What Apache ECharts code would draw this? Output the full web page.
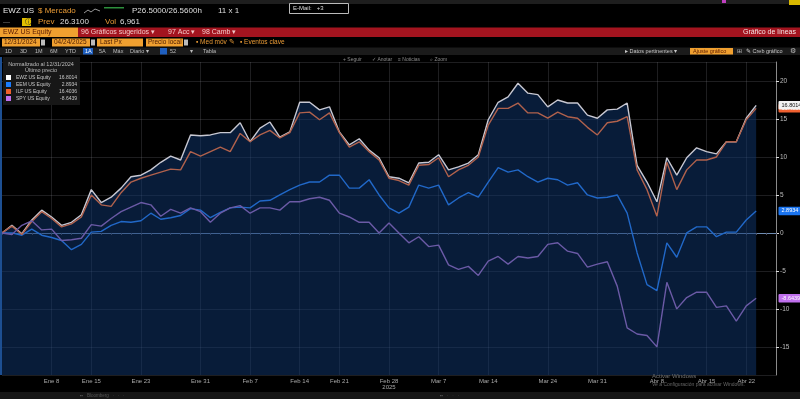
<!DOCTYPE html>
<html>
<head>
<meta charset="utf-8">
<script src="https://cdn.jsdelivr.net/npm/echarts@6/dist/echarts.min.js"></script>
<style>
html,body{margin:0;padding:0;background:#000;}
#chart{width:800px;height:399px;}
</style>
</head>
<body>
<div id="chart"></div>
<script>
// trading days, 12/31/2024 .. 04/25/2025 (last two have no data yet)
var categories = ["Dic 31","Ene 2","Ene 3","Ene 6","Ene 7","Ene 8","Ene 10","Ene 13","Ene 14","Ene 15","Ene 16","Ene 17","Ene 21","Ene 22","Ene 23","Ene 24","Ene 27","Ene 28","Ene 29","Ene 30","Ene 31",
  "Feb 3","Feb 4","Feb 5","Feb 6","Feb 7","Feb 10","Feb 11","Feb 12","Feb 13","Feb 14","Feb 18","Feb 19","Feb 20","Feb 21","Feb 24","Feb 25","Feb 26","Feb 27","Feb 28",
  "Mar 3","Mar 4","Mar 5","Mar 6","Mar 7","Mar 10","Mar 11","Mar 12","Mar 13","Mar 14","Mar 17","Mar 18","Mar 19","Mar 20","Mar 21","Mar 24","Mar 25","Mar 26","Mar 27","Mar 28","Mar 31",
  "Abr 1","Abr 2","Abr 3","Abr 4","Abr 7","Abr 8","Abr 9","Abr 10","Abr 11","Abr 14","Abr 15","Abr 16","Abr 17","Abr 21","Abr 22","Abr 23","Abr 24","Abr 25"];
var tickLabels = ["Ene 8","Ene 15","Ene 23","Ene 31","Feb 7","Feb 14","Feb 21","Feb 28","Mar 7","Mar 14","Mar 24","Mar 31","Abr 8","Abr 15","Abr 22"];

// normalizado al 12/31/2024 (% cambio)
var ewz = [0,1.0,-0.1,1.7,3.0,2.1,1.0,1.4,2.4,5.7, 4.0,4.7,5.9,7.4,7.6,8.3,9.3,10.1,9.6,12.9,
  12.8,12.9,13.2,13.2,14.5,12.0,13.8,14.6,12.6,13.3, 17.2,17.2,16.2,16.6,13.3,11.6,12.4,10.9,9.9,7.4,
  7.2,6.6,9.2,9.3,10.3,8.3,8.7,9.2,10.3,14.9, 17.2,17.9,19.7,18.4,18.2,16.6,17.5,17.1,17.1,15.5,
  15.1,16.2,16.3,17.1,8.9,6.7,4.1,9.9,7.6,9.9, 11.2,10.7,10.4,12.0,12.0,15.1,16.8];
var eem = [0,0,-0.3,0.5,-0.3,-0.6,-1.0,-2.2,-1.5,0.1, 0.2,1.0,1.5,1.4,1.6,2.6,1.8,2.0,2.3,3.2,
  3.0,2.0,2.7,3.3,3.4,3.3,4.2,4.3,5.0,5.7, 6.3,6.7,6.7,7.6,7.6,5.9,5.9,7.0,5.0,3.3,
  2.6,3.4,6.3,5.9,6.3,3.7,4.6,5.3,4.7,6.7, 8.6,8.0,8.3,7.4,6.7,7.2,7.0,6.3,6.6,5.0,
  4.6,4.7,5.0,2.6,-2.6,-6.8,-7.6,-1.3,-3.2,0, 0.8,0.8,-0.5,0.1,0.1,1.7,2.9];
var ilf = [0,0.9,-0.2,1.5,2.8,1.9,0.8,1.2,2.1,5.0, 3.7,3.5,5.3,6.7,7.2,7.6,8.0,8.4,8.3,10.7,
  10.1,10.7,11.3,10.7,13.1,12.0,12.9,13.5,12.5,13.2, 15.8,15.9,14.9,15.8,13.2,11.3,12.0,10.7,9.6,7.2,
  6.9,6.3,8.9,9.0,9.9,7.4,8.3,8.9,10.0,14.2, 16.4,16.4,17.1,15.8,15.8,15.1,15.9,15.3,15.1,13.9,
  12.9,14.5,14.7,15.3,8.3,5.7,2.2,9.3,5.7,8.3, 9.6,9.6,10.0,12.0,12.0,14.9,16.4];
var spy = [0,-0.2,1.0,1.6,0.4,0.5,-1.0,-0.9,-0.7,1.1, 0.9,1.9,2.8,3.4,4.0,3.7,2.2,3.1,2.6,3.3,
  2.8,1.4,2.6,3.3,3.6,2.6,3.3,3.3,3.0,4.1, 4.1,4.5,4.7,4.3,2.6,2.1,1.4,1.4,0,1.3,
  0,-1.3,-0.5,-1.8,-1.6,-4.2,-4.8,-4.4,-5.6,-3.7, -3.1,-4.1,-3.1,-3.3,-3.1,-1.5,-1.3,-2.4,-2.7,-4.5,
  -4.1,-3.8,-7.0,-12.5,-13.3,-13.5,-15.0,-6.5,-10.0,-8.5, -7.8,-7.8,-9.8,-9.6,-11.6,-9.6,-8.6];

var names = ["EWZ US Equity","EEM US Equity","ILF US Equity","SPY US Equity"];
var lastPx = ["16.8014","2.8934","16.4036","-8.6439"];

var FONT = "Liberation Sans, Arial, sans-serif";
var myChart = echarts.init(document.getElementById("chart"), null, {renderer: "canvas"});

function txt(x, y, s, color, size, extra) {
  var o = {type: "text", x: x, y: y, z: 100, silent: true,
    style: {text: s, fill: color, font: size + "px " + FONT, verticalAlign: "middle"}};
  if (extra) Object.assign(o.style, extra);
  return o;
}
function box(x, y, w, h, fill, z) {
  return {type: "rect", z: z || 90, silent: true, shape: {x: x, y: y, width: w, height: h}, style: {fill: fill}};
}

var orange = "#e89a35";
var graphics = [
  box(0, 0, 800, 4, "#1e1e1e"),
  txt(3, 11, "EWZ US", "#e6e6e6", 8),
  txt(38, 11, "$ Mercado", orange, 8),
  {type: "polyline", z: 100, silent: true, shape: {points: [[84, 13], [88, 10], [91, 12], [95, 9], [100, 11]]}, style: {stroke: "#999", lineWidth: 1}},
  box(104, 7, 20, 1.5, "#2d8f3c"),
  txt(132, 11, "P26.5000/26.5600h", "#dedede", 8),
  txt(218, 11, "11 x 1", "#dedede", 8),
  {type: "rect", z: 95, silent: true, shape: {x: 289.5, y: 3.5, width: 59, height: 10}, style: {fill: "#000", stroke: "#bbb", lineWidth: 1}},
  txt(293, 8.5, "E-Mail:   +3", "#ddd", 6),
  box(722, 0, 4, 3, "#c040c0"),
  box(789, 0, 11, 5, "#d8b800"),

  txt(3, 22, "\u2014", "#777", 7),
  box(22, 18, 9, 8, "#e3c000"),
  txt(24.5, 22, "\u24d8", "#222", 7),
  txt(38, 22, "Prev", orange, 8),
  txt(60, 22, "26.3100", "#dedede", 8),
  txt(105, 22, "Vol", orange, 8),
  txt(120, 22, "6,961", "#dedede", 8),

  box(0, 27.5, 78, 9.5, "#f0a030"),
  txt(3, 32.5, "EWZ US Equity", "#5a1a00", 7),
  box(78, 27.5, 722, 9.5, "#a3141f"),
  txt(81, 32.5, "96 Gr\u00e1ficos sugeridos \u25be", "#f3c9c9", 7),
  txt(168, 32.5, "97 Acc \u25be", "#f3c9c9", 7),
  txt(202, 32.5, "98 Camb \u25be", "#f3c9c9", 7),
  txt(796, 32.5, "Gr\u00e1fico de l\u00edneas", "#f5e6e6", 7, {align: "right"}),

  box(2, 38.5, 38, 8, "#f0a030"), txt(4, 42.5, "12/31/2024", "#4a1a00", 6.5), box(41, 39.5, 4, 6, "#bbb"),
  box(52, 38.5, 38, 8, "#f0a030"), txt(54, 42.5, "04/24/2025", "#4a1a00", 6.5), box(91, 39.5, 4, 6, "#bbb"),
  box(97, 38.5, 46, 8, "#f0a030"), txt(100, 42.5, "Last Px", "#4a1a00", 6.5),
  box(146, 38.5, 37, 8, "#f0a030"), txt(148, 42.5, "Precio local", "#4a1a00", 6.5), box(184, 39.5, 4, 6, "#bbb"),
  txt(196, 42.5, "\u25aa Med m\u00f3v \u270e", orange, 6.5),
  txt(240, 42.5, "\u25aa Eventos clave", orange, 6.5),

  box(0, 47.5, 800, 7.5, "#1b1b1b"),
  txt(5, 51.5, "1D", "#bdbdbd", 5.5), txt(20, 51.5, "3D", "#bdbdbd", 5.5), txt(35, 51.5, "1M", "#bdbdbd", 5.5),
  txt(50, 51.5, "6M", "#bdbdbd", 5.5), txt(65, 51.5, "YTD", "#bdbdbd", 5.5),
  box(83, 48, 10, 6.5, "#1f5fbf", 95), txt(85, 51.5, "1A", "#fff", 5.5),
  txt(99, 51.5, "5A", "#bdbdbd", 5.5), txt(113, 51.5, "M\u00e1x", "#bdbdbd", 5.5),
  txt(130, 51.5, "Diario \u25be", "#bdbdbd", 5.5),
  box(160, 48, 7, 6.5, "#1f5fbf", 95), txt(170, 51.5, "52", "#bdbdbd", 5.5),
  txt(190, 51.5, "\u25be", "#bdbdbd", 5.5), txt(203, 51.5, "Tabla", "#bdbdbd", 5.5),
  txt(625, 51.5, "\u25b8 Datos pertinentes \u25be", "#c8c8c8", 5.5),
  box(690, 48, 43, 6.5, "#f0a030", 95), txt(693, 51.5, "Ajuste gr\u00e1fico", "#5a1a00", 5.5),
  txt(737, 51.5, "\u229e", "#bbb", 6), txt(746, 51.5, "\u270e Creb gr\u00e1fico", "#c8c8c8", 5.5),
  txt(790, 51.5, "\u2699", "#bbb", 6.5),

  txt(343, 59.5, "+ Seguir", "#8a8a8a", 5),
  txt(372, 59.5, "\u2713 Anotar", "#8a8a8a", 5),
  txt(398, 59.5, "\u2261 Noticias", "#8a8a8a", 5),
  txt(430, 59.5, "\u2315 Zoom", "#8a8a8a", 5),

  box(0, 57, 2, 318, "#1d4f92", 50),

  txt(41, 64.5, "Normalizado al 12/31/2024", "#bdbdbd", 5.5, {align: "center"}),
  txt(41, 70.5, "\u00daltimo precio", "#bdbdbd", 5.5, {align: "center"}),

  txt(652, 376, "Activar Windows", "#707070", 6),
  txt(652, 384.5, "Ve a Configuraci\u00f3n para activar Windows.", "#666", 5),
  box(0, 392, 800, 7, "#161616"),
  txt(80, 395.5, "\u25aa\u25aa   Bloomberg   \u00b7   \u00b7   \u00b7", "#555", 4.5),
  txt(440, 395.5, "\u25aa\u25aa   \u00b7   \u00b7   \u00b7", "#555", 4.5)
];

function tag(value, text, bg, fg, z) {
  return {
    symbol: "rect", symbolSize: 1, silent: true, z: z,
    itemStyle: {color: "rgba(0,0,0,0)"},
    label: {show: true, position: "right", distance: 2, formatter: text,
      backgroundColor: bg, color: fg, fontSize: 5.5, fontFamily: FONT, padding: [1.5, 2, 1, 3], borderRadius: 1},
    data: [{coord: ["Abr 25", value]}]
  };
}

var lineColors = ["#c8c8d2", "#2168c8", "#b0614c", "#6b5aa6"];
var iconColors = ["#ffffff", "#1a7cff", "#f0602a", "#c070ee"];
var seriesData = [ewz, eem, ilf, spy];
var tagStyles = [["#f2f2f2", "#111"], ["#1a74f0", "#fff"], ["#f06030", "#fff"], ["#c070ee", "#fff"]];

var series = [];
for (let i = 0; i < names.length; i++) {
  let obj = {
    name: names[i],
    type: "line",
    data: seriesData[i],
    symbol: "none",
    z: i === 0 ? 2 : 3,
    itemStyle: {color: iconColors[i]},
    lineStyle: {color: lineColors[i], width: 1.4},
    markPoint: tag(seriesData[i][seriesData[i].length - 1], lastPx[i], tagStyles[i][0], tagStyles[i][1], i === 0 ? 10 : 9)
  };
  if (i === 0) {
    obj.areaStyle = {color: "rgba(16,56,112,0.72)", origin: "start"};
  }
  series.push(obj);
}

var option = {
  backgroundColor: "#000",
  animation: false,
  textStyle: {fontFamily: FONT},
  graphic: graphics,
  legend: {
    data: names,
    orient: "vertical",
    left: 3, top: 57,
    padding: [18, 3, 4, 3],
    backgroundColor: "#171717",
    itemWidth: 5, itemHeight: 5, itemGap: 2, itemTextGap: 3,
    icon: "rect",
    selectedMode: false,
    formatter: function (name) {
      return "{n|" + name + "}{v|" + lastPx[names.indexOf(name)] + "}";
    },
    textStyle: {
      color: "#c8c8c8", fontSize: 5,
      rich: {n: {width: 40, fontSize: 5, color: "#c8c8c8"}, v: {width: 21, align: "right", fontSize: 5, color: "#c8c8c8"}}
    }
  },
  grid: {left: 2, right: 24, top: 62, bottom: 24},
  xAxis: {
    type: "category",
    data: categories,
    boundaryGap: false,
    axisLine: {lineStyle: {color: "#6f8db3"}},
    axisTick: {show: true, interval: 0, length: 2, lineStyle: {color: "#556"}},
    axisLabel: {
      color: "#a8a8a8", fontSize: 6, margin: 3, hideOverlap: false,
      interval: function (idx, val) { return tickLabels.indexOf(val) >= 0; },
      formatter: function (val) { return val === "Feb 28" ? val + "\n2025" : val; }
    },
    splitLine: {
      show: true,
      interval: function (idx, val) { return tickLabels.indexOf(val) >= 0; },
      lineStyle: {color: "rgba(150,150,160,0.2)", width: 1}
    }
  },
  yAxis: {
    type: "value",
    position: "right",
    min: -18.7, max: 22.5,
    splitNumber: 8,
    axisLine: {show: true, lineStyle: {color: "#8a8a8a"}},
    axisTick: {show: true, length: 3, lineStyle: {color: "#ddd"}},
    axisLabel: {color: "#bdbdbd", fontSize: 6.5, margin: 4, showMinLabel: false, showMaxLabel: false},
    splitLine: {lineStyle: {color: "rgba(150,150,160,0.2)", width: 1}}
  },
  series: series
};

myChart.setOption(option, true);
</script>
</body>
</html>
